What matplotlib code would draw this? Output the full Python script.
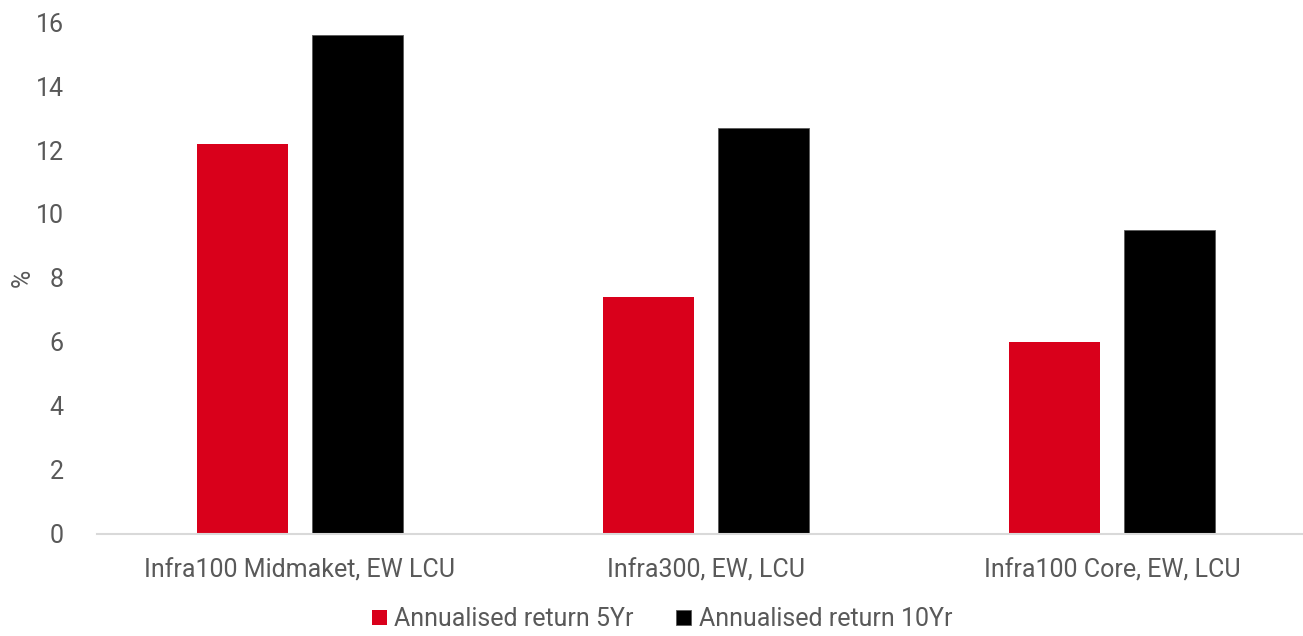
import numpy as np
import matplotlib.pyplot as plt

plt.rcParams['font.family'] = ['Roboto', 'DejaVu Sans']

categories = ['Infra100 Midmaket, EW LCU', 'Infra300, EW, LCU', 'Infra100 Core, EW, LCU']
ret_5yr = [12.2, 7.4, 6.0]
ret_10yr = [15.6, 12.7, 9.5]
series_names = ['Annualised return 5Yr', 'Annualised return 10Yr']
yticks = [0, 2, 4, 6, 8, 10, 12, 14, 16]

text_col = '#595959'

fig = plt.figure(figsize=(13.03, 6.36), dpi=100)
ax = fig.add_axes([0.0744, 0.1604, 0.935, 0.805])

x = np.arange(len(categories))
w = 0.224
off = 0.1416
ax.bar(x - off, ret_5yr, w, color='#D9001B', label=series_names[0], zorder=2)
ax.bar(x + off, ret_10yr, w, color='black', edgecolor='#595959', linewidth=0.6,
       label=series_names[1], zorder=2)

ax.set_xlim(-0.5, 2.5)
ax.set_ylim(0, 16)
ax.set_yticks(yticks)
ax.set_xticks(x)
ax.set_xticklabels(categories)
ax.tick_params(axis='both', length=0, labelsize=18, colors=text_col)
ax.tick_params(axis='y', pad=24)
ax.tick_params(axis='x', pad=18)

for s in ['top', 'right', 'left']:
    ax.spines[s].set_visible(False)
ax.spines['bottom'].set_color('#D9D9D9')
ax.spines['bottom'].set_linewidth(1.5)

ax.set_ylabel('%', fontsize=18, color=text_col)
ax.yaxis.set_label_coords(-0.051, 0.5)

leg = fig.legend(loc='lower center', bbox_to_anchor=(0.508, -0.028), ncol=2, frameon=False,
                 fontsize=18, handlelength=0.6, handleheight=0.6, handletextpad=0.3,
                 columnspacing=1.7)
for t in leg.get_texts():
    t.set_color(text_col)

fig.savefig('out.png', dpi=100)
